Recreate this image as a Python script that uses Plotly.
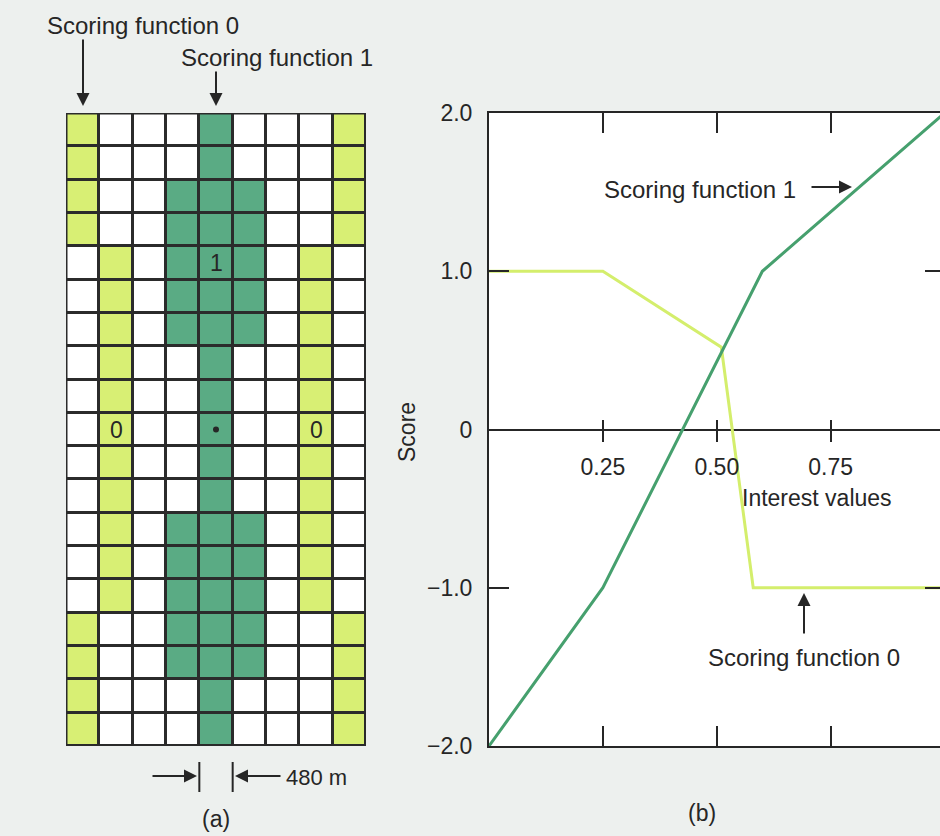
import plotly.graph_objects as go

# ---------------- data ----------------
# Panel (a): 9 x 19 grid of cells. L = scoring function 0 (light), D = scoring function 1 (dark)
cell_rows = [
    "L...D...L",
    "L...D...L",
    "L..DDD..L",
    "L..DDD..L",
    ".L.DDD.L.",
    ".L.DDD.L.",
    ".L.DDD.L.",
    ".L..D..L.",
    ".L..D..L.",
    ".L..D..L.",
    ".L..D..L.",
    ".L..D..L.",
    ".L.DDD.L.",
    ".L.DDD.L.",
    ".L.DDD.L.",
    "L..DDD..L",
    "L..DDD..L",
    "L...D...L",
    "L...D...L",
]
cell_codes = {".": 0, "L": 1, "D": 2}
cell_labels = [(4, 4, "1"), (1, 9, "0"), (7, 9, "0")]   # (col, row, text)
center_cell = (4, 9)

# Panel (b): scoring functions
interest_f1 = [0.0, 0.25, 0.60, 1.0]
score_f1 = [-2.0, -1.0, 1.0, 2.0]
interest_f0 = [0.0, 0.25, 0.51, 0.58, 1.0]
score_f0 = [1.0, 1.0, 0.52, -1.0, -1.0]

x_tickvals = [0.25, 0.50, 0.75]
x_ticktext = ["0.25", "0.50", "0.75"]
y_tickvals = [-2, -1, 0, 1, 2]
y_ticktext = ["\u22122.0", "\u22121.0", "0", "1.0", "2.0"]

# ---------------- styling ----------------
W, H = 940, 836
LIGHT = "#d8ef74"
DARK = "#5aab84"
LINE_DARK = "#46a06e"
LINE_LIGHT = "#d4ee6c"
INK = "#262626"
GRIDINK = "#2b2b2b"
BG = "#edf0ee"
FONT = "Liberation Sans, Arial, sans-serif"


def px(x):
    return x / W


def py(y):
    return 1 - y / H


grid_x = [px(66), px(366)]
grid_y = [py(746), py(113)]
b_x = [px(489), 1.0]
b_y = [py(746), py(113)]

z = [[cell_codes[c] for c in row] for row in cell_rows]

fig = go.Figure()

fig.add_trace(go.Heatmap(
    z=z, x=list(range(9)), y=list(range(len(cell_rows))),
    zmin=0, zmax=2,
    colorscale=[[0, "white"], [0.33, "white"], [0.33, LIGHT], [0.67, LIGHT],
                [0.67, DARK], [1, DARK]],
    showscale=False, xgap=3, ygap=3, hoverinfo="skip",
    xaxis="x", yaxis="y",
))
fig.add_trace(go.Scatter(
    x=[center_cell[0]], y=[center_cell[1]], mode="markers",
    marker=dict(size=6, color=INK), xaxis="x", yaxis="y",
    showlegend=False, hoverinfo="skip",
))

fig.add_trace(go.Scatter(
    x=interest_f0, y=score_f0, mode="lines",
    line=dict(color=LINE_LIGHT, width=3), xaxis="x2", yaxis="y2",
    showlegend=False, hoverinfo="skip",
))
fig.add_trace(go.Scatter(
    x=interest_f1, y=score_f1, mode="lines",
    line=dict(color=LINE_DARK, width=3), xaxis="x2", yaxis="y2",
    showlegend=False, hoverinfo="skip",
))
# helper traces so the overlay axes are drawn
fig.add_trace(go.Scatter(x=[None], y=[None], xaxis="x3", yaxis="y2",
                         showlegend=False, hoverinfo="skip"))
fig.add_trace(go.Scatter(x=[None], y=[None], xaxis="x2", yaxis="y3",
                         showlegend=False, hoverinfo="skip"))

zero_pos = b_y[0] + (b_y[1] - b_y[0]) * 0.5

fig.update_layout(
    width=W, height=H, autosize=False,
    margin=dict(l=0, r=0, t=0, b=0, pad=0, autoexpand=False),
    paper_bgcolor=BG, plot_bgcolor="white",
    font=dict(family=FONT, color=INK, size=23),
    showlegend=False,
    xaxis=dict(domain=grid_x, anchor="y", range=[-0.5, 8.5], visible=False,
               fixedrange=True, automargin=False),
    yaxis=dict(domain=grid_y, anchor="x", range=[18.5, -0.5], visible=False,
               fixedrange=True, automargin=False),
    xaxis2=dict(domain=b_x, anchor="y2", range=[0, 0.99], automargin=False,
                showline=True, linecolor=INK, linewidth=2, mirror="ticks",
                ticks="inside", ticklen=20, tickwidth=2, tickcolor=INK,
                tickvals=x_tickvals, showticklabels=False,
                showgrid=False, zeroline=False),
    yaxis2=dict(domain=b_y, anchor="x2", range=[-2, 2], automargin=False,
                showline=True, linecolor=INK, linewidth=2,
                ticks="inside", ticklen=20, tickwidth=2, tickcolor=INK,
                tickvals=y_tickvals, ticktext=y_ticktext,
                tickfont=dict(size=23, color=INK), ticklabelstandoff=10,
                showgrid=False, zeroline=True, zerolinecolor=INK,
                zerolinewidth=2),
    xaxis3=dict(overlaying="x2", anchor="free", automargin=False,
                position=zero_pos + 11 / H, range=[0, 0.99],
                ticks="outside", ticklen=22, tickwidth=2, tickcolor=INK,
                tickvals=x_tickvals, ticktext=x_ticktext,
                tickfont=dict(size=23, color=INK), ticklabelstandoff=6,
                showline=False, showgrid=False, zeroline=False),
    yaxis3=dict(overlaying="y2", anchor="x2", side="right", range=[-2, 2],
                automargin=False,
                ticks="inside", ticklen=15, tickwidth=2, tickcolor=INK,
                tickvals=[-1, 1], showticklabels=False,
                showline=False, showgrid=False, zeroline=False),
)

# grid lines (dark underlay visible through the cell gaps) and border
fig.add_shape(type="rect", xref="x", yref="y", x0=-0.5, x1=8.5, y0=-0.5,
              y1=len(cell_rows) - 0.5, fillcolor=GRIDINK,
              line=dict(width=0), layer="below")
fig.add_shape(type="rect", xref="x", yref="y", x0=-0.5, x1=8.5, y0=-0.5,
              y1=len(cell_rows) - 0.5, line=dict(color=GRIDINK, width=3),
              layer="above")

for c, r, t in cell_labels:
    fig.add_annotation(x=c, y=r, xref="x", yref="y", text=t, showarrow=False,
                       font=dict(size=23, color=INK))

# measurement marks under the grid (one cell = 480 m)
for xe in [center_cell[0] - 0.5, center_cell[0] + 0.5]:
    fig.add_shape(type="line", xref="x", yref="paper", x0=xe, x1=xe,
                  y0=py(762), y1=py(792), line=dict(color=INK, width=2))


def arrow(hx, hy, ax, ay):
    fig.add_annotation(x=px(hx), y=py(hy), xref="paper", yref="paper",
                       ax=ax, ay=ay, axref="pixel", ayref="pixel", text="",
                       showarrow=True, arrowhead=2, arrowsize=1.3,
                       arrowwidth=2, arrowcolor=INK)


def label(x, y, t, size=23, xanchor="center", angle=0):
    fig.add_annotation(x=px(x), y=py(y), xref="paper", yref="paper", text=t,
                       showarrow=False, xanchor=xanchor, yanchor="middle",
                       textangle=angle, font=dict(size=size, color=INK))


label(143, 26, "Scoring function 0", size=24)
arrow(83, 106, 0, -68)
label(277, 58, "Scoring function 1", size=24)
arrow(216, 106, 0, -36)

arrow(197, 776, -46, 0)
arrow(235, 776, 47, 0)
label(284, 777, "480 m", size=22, xanchor="left")
label(216, 819, "(a)", size=23)

label(407, 432, "Score", size=23, angle=-90)
label(817, 498, "Interest values", size=23)
label(700, 189, "Scoring function 1", size=24)
arrow(852, 187, -42, 0)
label(804, 657, "Scoring function 0", size=24)
arrow(804, 593, 0, 42)
label(702, 813, "(b)", size=23)

page_fix = ("document.documentElement.style.margin='0';"
            "document.body.style.margin='0';"
            "document.body.style.overflow='hidden';"
            "document.body.style.background='%s';" % BG)

fig.write_html("out.html", post_script=page_fix,
               config={"displayModeBar": False, "staticPlot": True})
